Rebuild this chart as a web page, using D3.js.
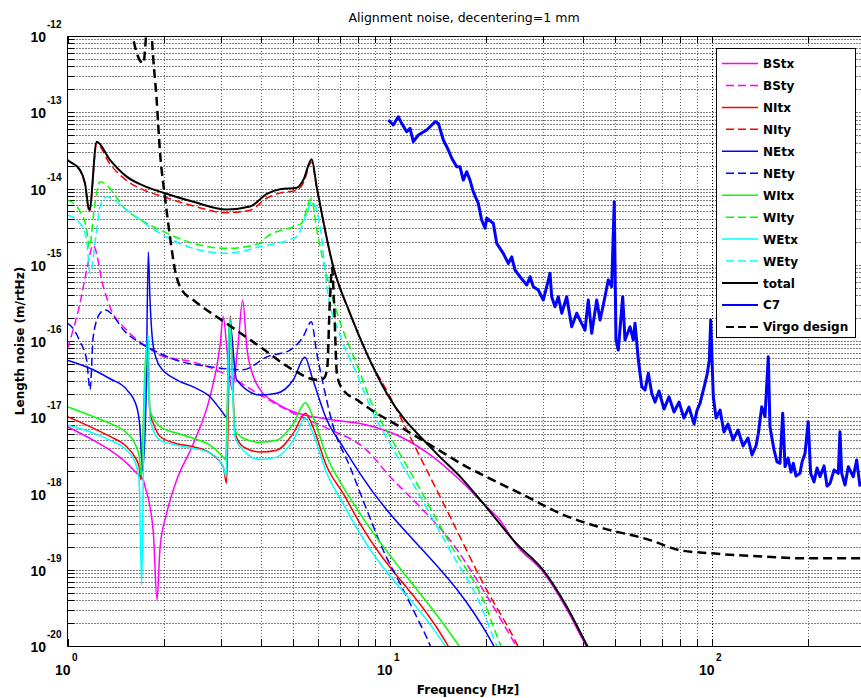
<!DOCTYPE html>
<html>
<head>
<meta charset="utf-8">
<title>Alignment noise</title>
<script src="https://d3js.org/d3.v7.min.js"></script>
<style>
  body { margin: 0; background: #fff; }
  svg { display: block; }
</style>
</head>
<body>
<script>
// curves as [frequency Hz, length noise m/rtHz]
var bStx = [[1.0,7.5e-18],[1.202,5.0e-18],[1.355,3.7e-18],[1.527,2.5e-18],[1.640,1.84e-18],[1.720,1.5e-18],[1.741,1.23e-18],
  [1.804,6.7e-19],[1.848,3.0e-19],[1.897,4.0e-20],[1.939,2.0e-19],[2.032,5.5e-19],[2.183,1.5e-18],[2.459,4.5e-18],
  [2.770,1.86e-17],[2.974,8.4e-17],[3.045,2.08e-16],[3.13,7.6e-17],[3.243,2.3e-17],[3.385,8.9e-17],[3.500,3.45e-16],
  [3.603,8.4e-17],[3.782,3.4e-17],[3.966,2.3e-17],[4.464,1.52e-17],[5.028,1.18e-17],[6.39,9.5e-18],[8.50,7.9e-18],
  [10.78,5.6e-18],[13.68,3.0e-18],[16.54,1.5e-18],[19.55,7.4e-19],[22.0,4.5e-19],[24.8,2.1e-19],[30.0,9.3e-20],
  [35.5,3.05e-20],[41.0,9.7e-21],[44,6e-21]];
var bSty = [[1.0,8.0e-17],[1.094,3.15e-16],[1.147,8.5e-16],[1.202,1.8e-15],[1.292,5.15e-16],[1.355,2.8e-16],[1.527,1.39e-16],
  [1.762,8.4e-17],[1.939,6.5e-17],[2.459,5.3e-17],[3.118,3.6e-17],[3.966,1.96e-17],[5.028,1.13e-17],[6.39,7.2e-18],
  [8.50,3.7e-18],[10.04,1.66e-18],[12.15,7.4e-19],[15.41,2.45e-19],[19.55,5.4e-20],[24.8,9.8e-21],[26.5,6e-21]];
var nItx = [[1.0,1.02e-17],[1.202,7.2e-18],[1.355,5.6e-18],[1.527,4.1e-18],[1.620,3.0e-18],[1.668,2.24e-18],[1.692,1.5e-18],
  [1.770,1.03e-16],[1.804,1.13e-17],[1.848,8.3e-18],[1.939,5.6e-18],[2.183,4.5e-18],[2.459,4.1e-18],[2.770,3.4e-18],
  [3.045,2.24e-18],[3.118,1.36e-18],[3.208,2.13e-16],[3.310,6.2e-18],[3.515,4.1e-18],[3.966,3.5e-18],[4.464,3.7e-18],
  [5.028,6.2e-18],[5.482,1.13e-17],[5.781,7.5e-18],[6.39,2.24e-18],[7.17,1.01e-18],[8.09,4.06e-19],[15.05,1.08e-20],[15.6,8.3e-21]];
var nIty = [[1.0,2.3e-14],[1.094,1.7e-14],[1.133,1.12e-14],[1.169,4.9e-15],[1.232,3.84e-14],[1.355,2.09e-14],[1.527,1.27e-14],
  [1.72,9.6e-15],[1.984,7.8e-15],[2.459,5.9e-15],[3.12,4.8e-15],[3.69,5.2e-15],[4.16,7.5e-15],[4.57,8.7e-15],[5.15,9.5e-15],
  [5.40,1.18e-14],[5.73,2.23e-14],[5.94,1.02e-14],[6.69,9.2e-16],[7.54,2.26e-16],[8.50,6.8e-17],[10.04,1.86e-17],
  [12.15,3.7e-18],[15.41,5.0e-19],[19.55,6.6e-20],[24.8,1.08e-20],[26.5,6e-21]];
var nEtx = [[1.0,5.6e-17],[1.202,4.2e-17],[1.355,3.2e-17],[1.527,2.3e-17],[1.640,1.37e-17],[1.679,7.2e-18],[1.710,2.0e-18],
  [1.753,1.68e-17],[1.782,1.47e-15],[1.804,3.45e-16],[1.848,8.4e-17],[1.939,4.6e-17],[2.183,3.1e-17],[2.459,2.5e-17],
  [2.770,1.86e-17],[3.045,1.13e-17],[3.13,9.8e-18],[3.185,1.88e-16],[3.350,3.1e-17],[3.966,1.96e-17],[4.464,2.06e-17],
  [5.028,3.1e-17],[5.458,6.1e-17],[5.781,3.1e-17],[6.39,9.2e-18],[7.17,4.1e-18],[8.09,1.84e-18],[21.1,1.0e-20],[22.5,6e-21]];
var nEty = [[1.0,1.7e-16],[1.030,1.54e-16],[1.094,9.8e-17],[1.147,5.6e-17],[1.175,2.3e-17],[1.202,1.14e-16],[1.262,2.31e-16],
  [1.308,2.55e-16],[1.527,1.26e-16],[1.848,7.6e-17],[2.183,5.6e-17],[2.770,4.6e-17],[3.515,4.2e-17],[4.159,6.2e-17],
  [4.909,7.6e-17],[5.393,1.14e-16],[5.717,1.79e-16],[5.945,6.9e-17],[6.23,2.65e-17],[6.69,7.5e-18],[7.54,2.24e-18],
  [8.50,6.1e-19],[9.56,1.8e-19],[10.78,6.6e-20],[12.15,2.4e-20],[13.35,1.03e-20],[14.0,6e-21]];
var wItx = [[1.0,1.37e-17],[1.202,1.02e-17],[1.355,8.3e-18],[1.527,6.2e-18],[1.620,4.5e-18],[1.671,3.0e-18],[1.692,1.75e-18],
  [1.753,7.6e-17],[1.804,1.24e-17],[1.939,7.5e-18],[2.183,6.2e-18],[2.459,5.3e-18],[2.770,4.3e-18],[3.045,3.0e-18],
  [3.096,2.75e-18],[3.185,2.0e-16],[3.310,6.8e-18],[3.515,5.3e-18],[3.966,4.7e-18],[4.464,5.0e-18],[5.028,8.3e-18],
  [5.482,1.55e-17],[5.781,1.02e-17],[6.39,3.04e-18],[7.17,1.23e-18],[8.09,5.5e-19],[16.44,1.0e-20],[17.16,7.6e-21]];
var wIty = [[1.0,7.1e-15],[1.094,5.0e-15],[1.147,2.9e-15],[1.169,1.66e-15],[1.209,5.2e-15],[1.262,1.23e-14],[1.527,5.2e-15],
  [1.939,2.86e-15],[2.459,1.91e-15],[3.118,1.64e-15],[3.966,1.91e-15],[4.159,2.33e-15],[5.028,3.15e-15],[5.332,3.5e-15],
  [5.717,7.4e-15],[5.945,2.86e-15],[6.39,6.97e-16],[6.99,1.88e-16],[7.89,5.1e-17],[8.91,1.37e-17],[10.04,5.6e-18],
  [12.15,1.36e-18],[15.41,2.2e-19],[19.55,4.0e-20],[22.0,1.09e-20],[23,7e-21]];
var wEtx = [[1.0,7.9e-18],[1.202,6.2e-18],[1.355,5.0e-18],[1.527,3.7e-18],[1.620,2.6e-18],[1.668,1.5e-18],[1.700,6.3e-20],
  [1.728,9.2e-18],[1.782,1.2e-16],[1.804,9.2e-18],[1.939,5.0e-18],[2.183,4.3e-18],[2.459,3.9e-18],[2.770,3.4e-18],
  [3.045,2.24e-18],[3.106,1.66e-18],[3.193,2.08e-16],[3.310,5.6e-18],[3.515,3.7e-18],[3.966,2.8e-18],[4.464,3.0e-18],
  [5.028,5.0e-18],[5.482,9.7e-18],[5.781,6.2e-18],[6.39,1.84e-18],[7.17,7.4e-19],[8.09,3.0e-19],[14.89,1.0e-20],[15.5,7.6e-21]];
var wEty = [[1.0,4.5e-15],[1.094,3.5e-15],[1.147,2.1e-15],[1.175,7.7e-16],[1.226,2.45e-15],[1.262,5.8e-15],[1.323,7.8e-15],
  [1.527,5.2e-15],[1.939,2.58e-15],[2.459,1.64e-15],[3.118,1.41e-15],[3.966,1.73e-15],[5.148,2.33e-15],[5.53,4.7e-15],
  [5.742,6.7e-15],[6.112,2.86e-15],[6.39,5.15e-16],[6.99,1.26e-16],[7.89,3.8e-17],[8.91,1.13e-17],[10.04,4.5e-18],
  [12.15,1.11e-18],[15.41,1.8e-19],[19.1,3.6e-20],[21.5,1.03e-20],[22.5,7e-21]];
var total = [[1.0,2.37e-14],[1.018,2.24e-14],[1.094,1.75e-14],[1.133,1.18e-14],[1.169,5.2e-15],[1.232,4.1e-14],[1.355,2.37e-14],
  [1.527,1.43e-14],[1.72,1.09e-14],[1.984,8.8e-15],[2.459,6.7e-15],[3.12,5.3e-15],[3.69,5.8e-15],[4.16,8.5e-15],[4.57,9.8e-15],
  [5.15,1.02e-14],[5.40,1.29e-14],[5.73,2.42e-14],[5.94,1.06e-14],[6.69,9.4e-16],[7.54,2.31e-16],[8.50,6.9e-17],[9.80,2.06e-17],
  [13.68,3.7e-18],[16.95,1.5e-18],[19.55,7.4e-19],[24.8,2.2e-19],[30.0,9.9e-20],[35.5,3.3e-20],[41.0,1.03e-20],[44,6e-21]];
var c7 = [[9.92,7.91e-14],[10.27,6.80e-14],[10.65,8.74e-14],[10.91,7.16e-14],[11.31,5.56e-14],[11.58,6.16e-14],[11.86,4.11e-14],
  [12.29,5.03e-14],[13.05,5.85e-14],[13.85,7.52e-14],[14.18,7.16e-14],[14.70,4.33e-14],[15.23,3.20e-14],[15.61,2.49e-14],
  [16.17,1.93e-14],[16.55,1.93e-14],[16.95,1.29e-14],[17.37,1.66e-14],[17.78,1.29e-14],[18.2,9.08e-15],[18.87,6.39e-15],
  [19.33,3.86e-15],[19.81,3.01e-15],[20.05,4.07e-15],[21.01,3.50e-15],[21.53,1.91e-15],[22.56,1.41e-15],[23.38,1.04e-15],
  [23.96,1.27e-15],[24.54,8.53e-16],[25.43,6.97e-16],[26.68,5.43e-16],[27.32,6.97e-16],[27.97,5.15e-16],[28.98,4.67e-16],
  [30.04,3.45e-16],[30.78,5.15e-16],[31.51,7.73e-16],[31.89,3.81e-16],[32.66,2.82e-16],[33.44,3.81e-16],[34.27,2.31e-16],
  [35.51,3.81e-16],[36.80,1.54e-16],[38.14,2.31e-16],[39.05,1.88e-16],[40.47,1.39e-16],[41.44,3.45e-16],[42.46,1.26e-16],
  [44.01,3.45e-16],[45.06,1.88e-16],[46.13,2.97e-16],[47.80,6.31e-16],[48.98,5.15e-16],[49.89,6.71e-15],[50.50,1.03e-16],
  [51.34,7.62e-17],[52.99,3.81e-16],[53.87,1.03e-16],[55.84,1.54e-16],[57.17,1.03e-16],[57.87,1.71e-16],[59.27,5.63e-17],
  [60.72,2.52e-17],[62.18,2.28e-17],[63.66,3.77e-17],[65.23,2.06e-17],[66.8,1.58e-17],[68.7,2.21e-17],[71.2,1.28e-17],
  [73.8,1.85e-17],[76.5,1.17e-17],[79.3,1.58e-17],[82.1,9.77e-18],[85.1,1.36e-17],[88.3,8.15e-18],[90.2,1.24e-17],
  [92.11,1.52e-17],[95.46,2.79e-17],[97.05,3.77e-17],[98.45,5.63e-17],[99.43,1.88e-16],[101.3,1.86e-17],[103.3,9.77e-18],
  [106.3,1.24e-17],[109.3,6.41e-18],[112.5,8.15e-18],[116.7,5.04e-18],[120.9,6.81e-18],[125.3,4.2e-18],[129.8,5.35e-18],
  [133.6,3.2e-18],[137.5,4.2e-18],[139.8,6.16e-18],[143.2,1.37e-17],[146.6,1.02e-17],[150.1,6.22e-17],[151.9,7.52e-18],
  [156.4,3.72e-18],[159.8,2.59e-18],[163.2,2.49e-18],[166.4,1.13e-17],[169.2,2.25e-18],[172.9,2.92e-18],[176.6,1.91e-18],
  [179.5,2.49e-18],[183.0,1.70e-18],[188.3,1.84e-18],[191.1,2.59e-18],[195.2,3.37e-18],[199.7,8.74e-18],[203.2,1.84e-18],
  [208.2,1.42e-18],[212.7,2.16e-18],[217.3,1.66e-18],[223.6,2.3e-18],[228.5,1.25e-18],[233.4,1.36e-18],[240.2,2.03e-18],
  [247.6,1.84e-18],[250.6,6.46e-18],[253.7,1.84e-18],[259.8,1.29e-18],[266.0,2.25e-18],[275.6,1.66e-18],[282.4,2.75e-18],
  [289.2,1.23e-18]];
var virgo = [[1.541,3.0e-12],[1.601,9.05e-13],[1.72,4.38e-13],[1.785,2.2e-12],[1.81,2.2e-12],[1.83,8.9e-13],[1.892,1.45e-13],
  [1.939,2.9e-14],[2.007,7.8e-15],[2.081,2.33e-15],[2.157,8.5e-16],[2.263,4.7e-16],[2.459,3.45e-16],[3.118,1.7e-16],
  [3.966,8.4e-17],[5.028,4.17e-17],[5.945,3.1e-17],[6.23,3.2e-17],[6.40,4.2e-17],[6.53,3.45e-16],[6.63,9.1e-16],
  [6.72,3.45e-16],[6.87,3.6e-17],[7.17,2.3e-17],[8.09,1.6e-17],[8.50,1.37e-17],[10.78,7.5e-18],[13.68,4.1e-18],
  [17.36,2.24e-18],[22.0,1.36e-18],[28.0,8.2e-19],[33.8,5.5e-19],[45.1,3.6e-19],[64.4,2.45e-19],[79.8,1.8e-19],
  [100.4,1.64e-19],[148.8,1.48e-19],[199.6,1.41e-19],[290,1.41e-19]];

var seriesNames = ["BStx","BSty","NItx","NIty","NEtx","NEty","WItx","WIty","WEtx","WEty","total","C7","Virgo design"];
var seriesData = [bStx, bSty, nItx, nIty, nEtx, nEty, wItx, wIty, wEtx, wEty, total, c7, virgo];
var xTickExp = [0, 1, 2];
var yTickExp = [-20, -19, -18, -17, -16, -15, -14, -13, -12];

// styles
var colors = ["#ff00ff","#ff00ff","#ff0000","#ff0000","#0000ff","#0000ff","#00ff00","#00ff00","#00ffff","#00ffff","#000000","#0000ff","#000000"];
var dashes = [null,"8,4",null,"8,4",null,"8,4",null,"8,4",null,"8,4",null,null,"9,5"];
var widths = [1.5,1.5,1.5,1.5,1.5,1.5,1.5,1.5,1.5,1.5,2,3,2.5];

var w = 861, h = 698,
    plotLeft = 67.5, plotTop = 36, plotBottom = 646, decade = 322;

var svg = d3.select("body").append("svg")
  .attr("width", w).attr("height", h)
  .style("font-family", "'Liberation Sans', Arial, sans-serif");

var x = d3.scaleLog().domain([1, 300]).range([plotLeft, plotLeft + decade * Math.log10(300)]);
var y = d3.scaleLog().domain([1e-20, 1e-12]).range([plotBottom, plotTop]);

svg.append("rect").attr("width", w).attr("height", h).attr("fill", "#fff");

// grid + ticks
var xs = [], ys = [];
for (var e = 0; e <= 2; e++) for (var m = 1; m <= 9; m++) if (m * Math.pow(10, e) <= 300) xs.push(m * Math.pow(10, e));
for (var e = -20; e < -12; e++) for (var m = 1; m <= 9; m++) ys.push(m * Math.pow(10, e));
ys.push(1e-12);

var grid = svg.append("g");
xs.forEach(function(v, i) {
  var px = Math.round(x(v)) + 0.5;
  if (v === 1) return;
  grid.append("line").attr("x1", px).attr("x2", px).attr("y1", plotTop).attr("y2", plotBottom)
    .attr("stroke", (i % 9 === 0) ? "#000" : "#666").attr("stroke-dasharray", "1,2");
});
ys.forEach(function(v) {
  var py = Math.round(y(v)) + 0.5;
  if (v <= 1e-20 * 1.01 || v >= 1e-12 * 0.99) return;
  grid.append("line").attr("x1", plotLeft).attr("x2", w).attr("y1", py).attr("y2", py)
    .attr("stroke", "#000").attr("stroke-dasharray", "1,2");
});

var ticks = svg.append("g").attr("stroke", "#000");
xs.forEach(function(v) {
  var px = Math.round(x(v)) + 0.5;
  ticks.append("line").attr("x1", px).attr("x2", px).attr("y1", plotBottom).attr("y2", plotBottom - 7);
  ticks.append("line").attr("x1", px).attr("x2", px).attr("y1", plotTop).attr("y2", plotTop + 7);
});
ys.forEach(function(v) {
  var py = Math.round(y(v)) + 0.5;
  ticks.append("line").attr("x1", plotLeft).attr("x2", plotLeft + 7).attr("y1", py).attr("y2", py);
});

// curves
svg.append("clipPath").attr("id", "plot")
  .append("rect").attr("x", plotLeft).attr("y", plotTop).attr("width", w - plotLeft).attr("height", plotBottom - plotTop);

var smooth = d3.line()
  .curve(d3.curveMonotoneX)
  .x(function(d) { return x(d[0]); })
  .y(function(d) { return y(d[1]); });
var jagged = d3.line()
  .x(function(d) { return x(d[0]); })
  .y(function(d) { return y(d[1]); });

var curves = svg.append("g").attr("clip-path", "url(#plot)");
seriesData.forEach(function(data, i) {
  curves.append("path")
    .attr("d", (data === c7 ? jagged : smooth)(data))
    .attr("fill", "none")
    .attr("stroke", colors[i])
    .attr("stroke-width", widths[i])
    .attr("stroke-linejoin", "round")
    .attr("stroke-dasharray", dashes[i]);
});

// frame
svg.append("path")
  .attr("d", "M" + w + "," + (plotTop + 0.5) + "H" + plotLeft + "V" + (plotBottom + 0.5) + "H" + w)
  .attr("fill", "none").attr("stroke", "#000").attr("stroke-width", 1);

// tick labels
xTickExp.forEach(function(k) {
  var px = x(Math.pow(10, k));
  svg.append("text").attr("x", px + 3).attr("y", 675).attr("text-anchor", "end")
    .attr("font-size", 14).attr("font-weight", "bold").text("10");
  svg.append("text").attr("x", px + 4.5).attr("y", 661)
    .attr("font-size", 10).attr("font-weight", "bold").text(k);
});
yTickExp.forEach(function(k) {
  var py = y(Math.pow(10, k));
  svg.append("text").attr("x", 46).attr("y", py + 6).attr("text-anchor", "end")
    .attr("font-size", 14).attr("font-weight", "bold").text("10");
  svg.append("text").attr("x", 47).attr("y", py - 8)
    .attr("font-size", 10).attr("font-weight", "bold").text(k);
});

// titles
svg.append("text").attr("x", 464).attr("y", 22).attr("text-anchor", "middle")
  .style("font-family", "'DejaVu Sans', sans-serif").attr("font-size", 12.5)
  .text("Alignment noise, decentering=1 mm");
svg.append("text").attr("x", 468).attr("y", 694).attr("text-anchor", "middle")
  .style("font-family", "'DejaVu Sans', sans-serif").attr("font-size", 12).attr("font-weight", "bold")
  .text("Frequency [Hz]");
svg.append("text").attr("transform", "translate(24,341) rotate(-90)").attr("text-anchor", "middle")
  .style("font-family", "'DejaVu Sans', sans-serif").attr("font-size", 12).attr("font-weight", "bold")
  .text("Length noise (m/rtHz)");

// legend
var lg = svg.append("g");
lg.append("rect").attr("x", 716.5).attr("y", 48.5).attr("width", 139).attr("height", 289)
  .attr("fill", "#fff").attr("stroke", "#000");
seriesNames.forEach(function(name, i) {
  var ly = 63.5 + i * 21.95;
  lg.append("line")
    .attr("x1", dashes[i] ? 726 : 722).attr("x2", 758).attr("y1", ly).attr("y2", ly)
    .attr("stroke", colors[i]).attr("stroke-width", Math.min(widths[i], 2))
    .attr("stroke-dasharray", dashes[i] ? "8,4" : null);
  lg.append("text").attr("x", 763).attr("y", ly + 4.5)
    .style("font-family", "'DejaVu Sans', sans-serif").attr("font-size", 12).attr("font-weight", "bold")
    .text(name);
});
</script>
</body>
</html>
